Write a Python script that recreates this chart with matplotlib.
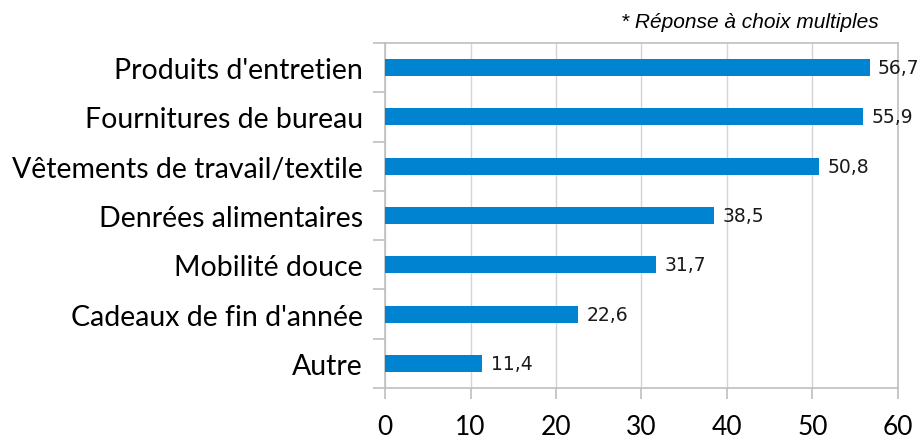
import matplotlib
matplotlib.use("Agg")
import matplotlib.pyplot as plt

# Données
categories = ["Produits d'entretien", "Fournitures de bureau",
              "Vêtements de travail/textile", "Denrées alimentaires",
              "Mobilité douce", "Cadeaux de fin d'année", "Autre"]
valeurs = [56.7, 55.9, 50.8, 38.5, 31.7, 22.6, 11.4]
etiquettes = ["56,7", "55,9", "50,8", "38,5", "31,7", "22,6", "11,4"]
graduations = [0, 10, 20, 30, 40, 50, 60]

bleu = "#0083D0"
gris = "#BFBFBF"

fig = plt.figure(figsize=(9.2, 4.39), dpi=100)
ax = fig.add_axes([385 / 920, 1 - 389 / 439, (898 - 385) / 920, (389 - 44) / 439])

y = list(range(len(categories)))[::-1]
ax.barh(y, valeurs, height=0.345, color=bleu, zorder=3)

for yi, v, txt in zip(y, valeurs, etiquettes):
    ax.text(v + 0.95, yi, txt, va="center", ha="left", fontsize=13.5,
            family="DejaVu Sans", color="#1a1a1a")

ax.set_xlim(0, 60)
ax.set_ylim(-0.5, len(categories) - 0.5)
ax.set_xticks(graduations)
ax.set_xticklabels([str(g) for g in graduations], family="Lato", fontsize=19)

# étiquettes des catégories au centre, traits de séparation entre catégories
ax.set_yticks(y)
ax.set_yticklabels(categories, family="Lato", fontsize=20.5)
ax.tick_params(axis="y", length=0, pad=16)
ax.set_yticks([i - 0.5 for i in range(len(categories) + 1)], minor=True)
ax.tick_params(axis="y", which="minor", length=8.5, color=gris, width=1.2)
ax.tick_params(axis="x", length=8, color=gris, width=1.2, pad=11)

ax.grid(axis="x", color="#D4D4D4", linewidth=1, zorder=0)
for s in ax.spines.values():
    s.set_color(gris)
    s.set_linewidth(1.2)

fig.text(879 / 920, 1 - 22 / 439, "* Réponse à choix multiples", ha="right",
         va="center", fontsize=15, style="italic", family="Liberation Sans")

fig.savefig("out.png", dpi=100)
